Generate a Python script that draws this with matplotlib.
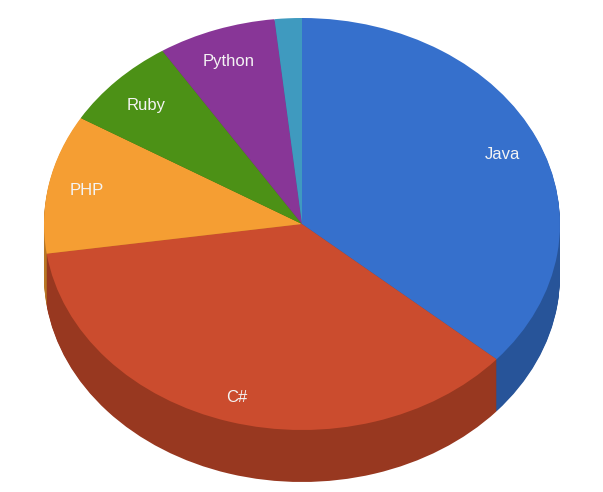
import matplotlib
matplotlib.use('Agg')
import matplotlib.pyplot as plt

languages = ['Java', 'C#', 'PHP', 'Ruby', 'Python', '']
shares = [36.4, 36.3, 10.9, 7.3, 7.4, 1.7]
top_colors = ['#3670CC', '#CB4C2E', '#F59E33', '#4C9116', '#883697', '#3F9ABF']
side_colors = ['#275499', '#983820', '#B87725', '#396D10', '#662871', '#2E7390']

plt.rcParams['font.family'] = ['Liberation Sans', 'DejaVu Sans']

fig = plt.figure(figsize=(6.03, 4.92), dpi=100)
ax = fig.add_axes([0, 0, 1, 1])

# pixel sizes of the flattened disc
rx, ry = 258.0, 206.0
cx, cy = 302.0, 224.0
depth = 52

# side wall is just a stack of darker pies, bottom one first
for d in range(depth, 0, -1):
    ax.pie(shares, colors=side_colors, startangle=90, counterclock=False,
           center=(0, -d / ry), wedgeprops={'linewidth': 0})

wedges, texts = ax.pie(shares, labels=languages, colors=top_colors, startangle=90,
                       counterclock=False, labeldistance=0.85,
                       wedgeprops={'linewidth': 0})

# small label nudges in pixels (right, down)
nudge_x = [1, -3, 0, 2, 0, 0]
nudge_y = [3, 6, 1, 3, 3, 0]
for t, nx, ny in zip(texts, nudge_x, nudge_y):
    t.set_color('#F4F4F4')
    t.set_fontsize(12)
    t.set_ha('center')
    t.set_va('center')
    t.set_x(t.get_position()[0] + nx / rx)
    t.set_y(t.get_position()[1] - ny / ry)

# pie forces equal aspect, undo that so the disc is an ellipse
ax.set_aspect('auto')
ax.set_xlim(-cx / rx, (603 - cx) / rx)
ax.set_ylim(-(492 - cy) / ry, cy / ry)
ax.axis('off')

fig.savefig('out.png', dpi=100, facecolor='white')
